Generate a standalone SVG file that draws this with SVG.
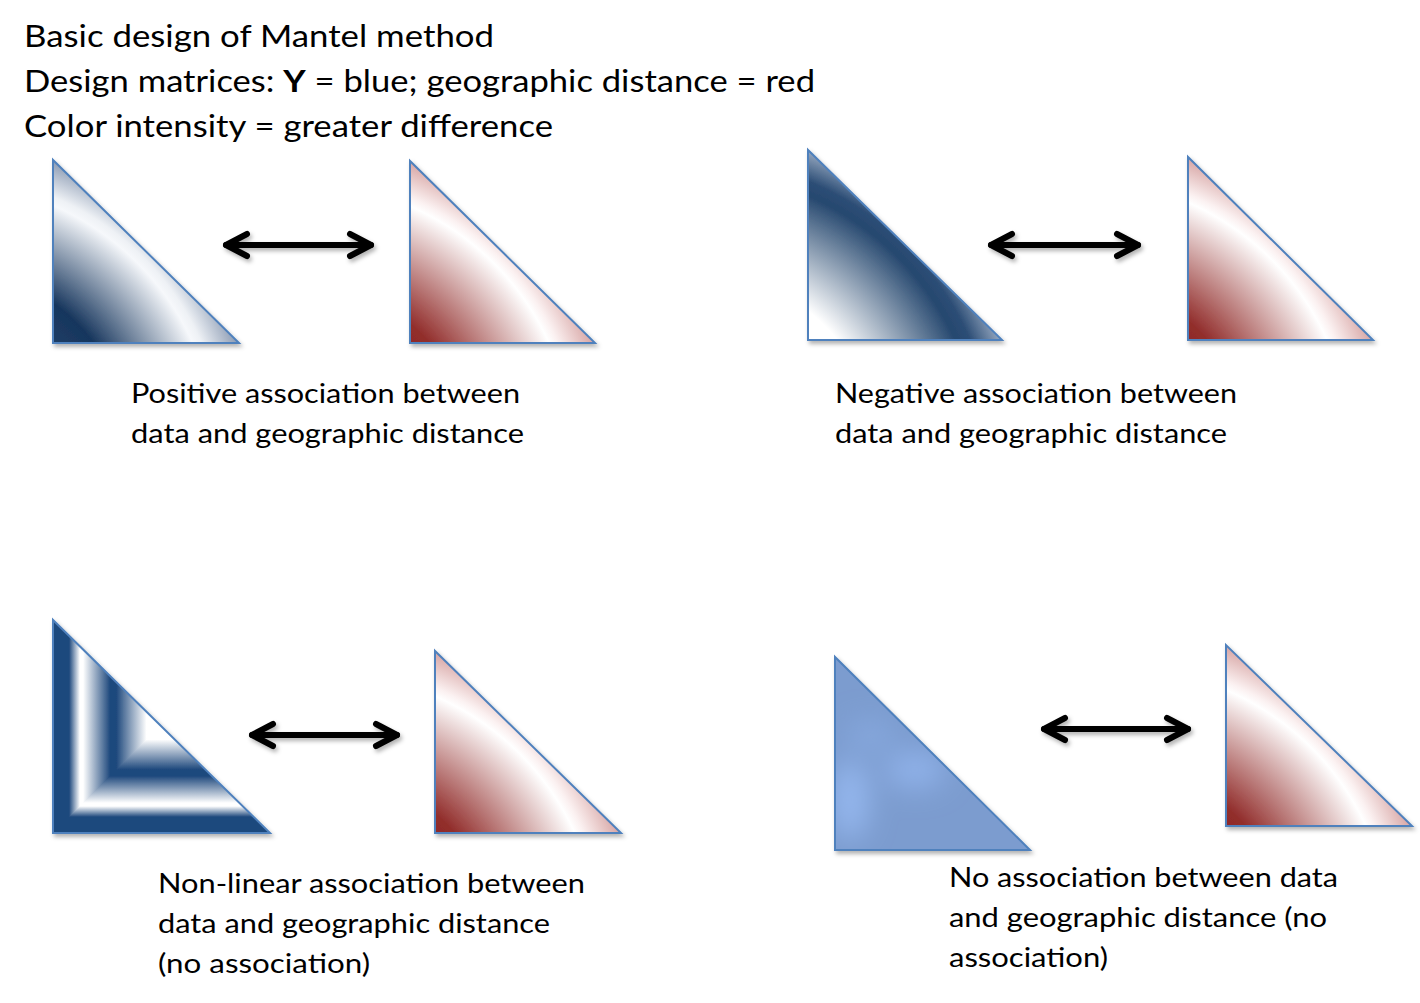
<svg xmlns="http://www.w3.org/2000/svg" width="1420" height="1003" viewBox="0 0 1420 1003">
  <style>
    .t { font-family: Lato, "Liberation Sans", sans-serif; fill: #000; }
    .title { font-size: 31px; }
    .lbl { font-size: 27px; }
    .edge { stroke: #4f81bd; stroke-width: 2; stroke-linejoin: miter; }
    .conn { stroke: #000; stroke-width: 6; stroke-linecap: round; fill: none; }
  </style>
  <defs>
    <filter id="shadow" x="-20%" y="-20%" width="140%" height="140%">
      <feDropShadow dx="2" dy="3" stdDeviation="2" flood-color="#000" flood-opacity="0.3"/>
    </filter>
    <filter id="blur" x="-50%" y="-50%" width="200%" height="200%">
      <feGaussianBlur stdDeviation="14"/>
    </filter>
    <radialGradient id="gPosBlue" cx="-0.6" cy="1.6" r="1.75" fx="-0.6" fy="1.6">
      <stop offset="0.48" stop-color="#1f3d66"/>
      <stop offset="0.58" stop-color="#17365d"/>
      <stop offset="0.845" stop-color="#f6f8fb"/>
      <stop offset="0.87" stop-color="#eef1f5"/>
      <stop offset="0.98" stop-color="#8797b0"/>
      <stop offset="1" stop-color="#7c8fab"/>
    </radialGradient>
    <radialGradient id="gNegBlue" cx="-0.6" cy="1.6" r="1.75" fx="-0.6" fy="1.6">
      <stop offset="0.48" stop-color="#ffffff"/>
      <stop offset="0.55" stop-color="#ffffff"/>
      <stop offset="0.85" stop-color="#26486f"/>
      <stop offset="0.89" stop-color="#2d4e76"/>
      <stop offset="0.98" stop-color="#9cadc4"/>
      <stop offset="1" stop-color="#a8b7cb"/>
    </radialGradient>
    <radialGradient id="gRed" cx="-0.6" cy="1.6" r="1.75" fx="-0.6" fy="1.6">
      <stop offset="0.48" stop-color="#8e2a28"/>
      <stop offset="0.53" stop-color="#922e2c"/>
      <stop offset="0.845" stop-color="#ffffff"/>
      <stop offset="0.87" stop-color="#fbf1f1"/>
      <stop offset="0.98" stop-color="#d5a1a0"/>
      <stop offset="1" stop-color="#d09594"/>
    </radialGradient>
    <linearGradient id="gNLx" gradientUnits="userSpaceOnUse" x1="53" y1="0" x2="160.5" y2="0">
      <stop offset="0" stop-color="#1f497d"/>
      <stop offset="0.15" stop-color="#1f497d"/>
      <stop offset="0.25" stop-color="#ffffff"/>
      <stop offset="0.28" stop-color="#ffffff"/>
      <stop offset="0.53" stop-color="#1f497d"/>
      <stop offset="0.59" stop-color="#1f497d"/>
      <stop offset="0.87" stop-color="#ffffff"/>
      <stop offset="1" stop-color="#ffffff"/>
    </linearGradient>
    <linearGradient id="gNLy" gradientUnits="userSpaceOnUse" x1="0" y1="833" x2="0" y2="725.5">
      <stop offset="0" stop-color="#1f497d"/>
      <stop offset="0.15" stop-color="#1f497d"/>
      <stop offset="0.25" stop-color="#ffffff"/>
      <stop offset="0.28" stop-color="#ffffff"/>
      <stop offset="0.53" stop-color="#1f497d"/>
      <stop offset="0.59" stop-color="#1f497d"/>
      <stop offset="0.87" stop-color="#ffffff"/>
      <stop offset="1" stop-color="#ffffff"/>
    </linearGradient>
    <clipPath id="clipNo">
      <polygon points="835,657 835,850 1030,850"/>
    </clipPath>
    <marker id="chev" viewBox="-30 -20 40 40" markerWidth="40" markerHeight="40" refX="0" refY="0" markerUnits="userSpaceOnUse" orient="auto-start-reverse">
      <path d="M -21 -11 L 0 0 L -21 11" fill="none" stroke="#000" stroke-width="6" stroke-linecap="round" stroke-linejoin="round"/>
    </marker>
  </defs>
  <rect width="1420" height="1003" fill="#ffffff"/>

  <g id="title">
    <text class="t title" x="24" y="47" textLength="470" lengthAdjust="spacingAndGlyphs">Basic design of Mantel method</text>
    <text class="t title" x="24" y="92" textLength="791" lengthAdjust="spacingAndGlyphs">Design matrices: <tspan font-weight="bold">Y</tspan> = blue; geographic distance = red</text>
    <text class="t title" x="24" y="137" textLength="529" lengthAdjust="spacingAndGlyphs">Color intensity = greater difference</text>
  </g>

  <g id="pos-blue" filter="url(#shadow)">
    <polygon class="edge" points="53,160 53,343 239,343" fill="url(#gPosBlue)"/>
  </g>
  <g id="pos-red" filter="url(#shadow)">
    <polygon class="edge" points="410,161 410,343 595,343" fill="url(#gRed)"/>
  </g>
  <g id="neg-blue" filter="url(#shadow)">
    <polygon class="edge" points="808,150 808,340 1002,340" fill="url(#gNegBlue)"/>
  </g>
  <g id="neg-red" filter="url(#shadow)">
    <polygon class="edge" points="1188,157 1188,340 1373,340" fill="url(#gRed)"/>
  </g>
  <g id="nl-blue" filter="url(#shadow)">
    <polygon points="53,620 53,833 270,833" fill="url(#gNLx)"/>
    <polygon points="53,833 270,833 160.5,725.5" fill="url(#gNLy)"/>
    <polygon class="edge" points="53,620 53,833 270,833" fill="none"/>
  </g>
  <g id="nl-red" filter="url(#shadow)">
    <polygon class="edge" points="435,651 435,833 621,833" fill="url(#gRed)"/>
  </g>
  <g id="no-blue" filter="url(#shadow)">
    <polygon points="835,657 835,850 1030,850" fill="#7c9ccf"/>
    <g clip-path="url(#clipNo)" filter="url(#blur)">
      <ellipse cx="850" cy="800" rx="18" ry="40" fill="#95b8ef"/>
      <ellipse cx="915" cy="770" rx="30" ry="18" fill="#90b2ea"/>
      <ellipse cx="870" cy="735" rx="25" ry="15" fill="#86a8de"/>
    </g>
    <polygon class="edge" points="835,657 835,850 1030,850" fill="none"/>
  </g>
  <g id="no-red" filter="url(#shadow)">
    <polygon class="edge" points="1226,645 1226,826 1412,826" fill="url(#gRed)"/>
  </g>

  <g id="connectors" filter="url(#shadow)">
    <line class="conn" x1="226" y1="245" x2="371" y2="245" marker-start="url(#chev)" marker-end="url(#chev)"/>
    <line class="conn" x1="991" y1="245" x2="1138" y2="245" marker-start="url(#chev)" marker-end="url(#chev)"/>
    <line class="conn" x1="252" y1="735" x2="397" y2="735" marker-start="url(#chev)" marker-end="url(#chev)"/>
    <line class="conn" x1="1044" y1="729" x2="1188" y2="729" marker-start="url(#chev)" marker-end="url(#chev)"/>
  </g>

  <g id="label-pos">
    <text class="t lbl" x="131" y="403" textLength="389" lengthAdjust="spacingAndGlyphs">Positive association between</text>
    <text class="t lbl" x="131" y="443" textLength="393" lengthAdjust="spacingAndGlyphs">data and geographic distance</text>
  </g>
  <g id="label-neg">
    <text class="t lbl" x="835" y="403" textLength="402" lengthAdjust="spacingAndGlyphs">Negative association between</text>
    <text class="t lbl" x="835" y="443" textLength="392" lengthAdjust="spacingAndGlyphs">data and geographic distance</text>
  </g>
  <g id="label-nl">
    <text class="t lbl" x="158" y="893" textLength="427" lengthAdjust="spacingAndGlyphs">Non-linear association between</text>
    <text class="t lbl" x="158" y="933" textLength="392" lengthAdjust="spacingAndGlyphs">data and geographic distance</text>
    <text class="t lbl" x="158" y="973" textLength="212" lengthAdjust="spacingAndGlyphs">(no association)</text>
  </g>
  <g id="label-no">
    <text class="t lbl" x="949" y="887" textLength="389" lengthAdjust="spacingAndGlyphs">No association between data</text>
    <text class="t lbl" x="949" y="927" textLength="378" lengthAdjust="spacingAndGlyphs">and geographic distance (no</text>
    <text class="t lbl" x="949" y="967" textLength="159" lengthAdjust="spacingAndGlyphs">association)</text>
  </g>
</svg>
